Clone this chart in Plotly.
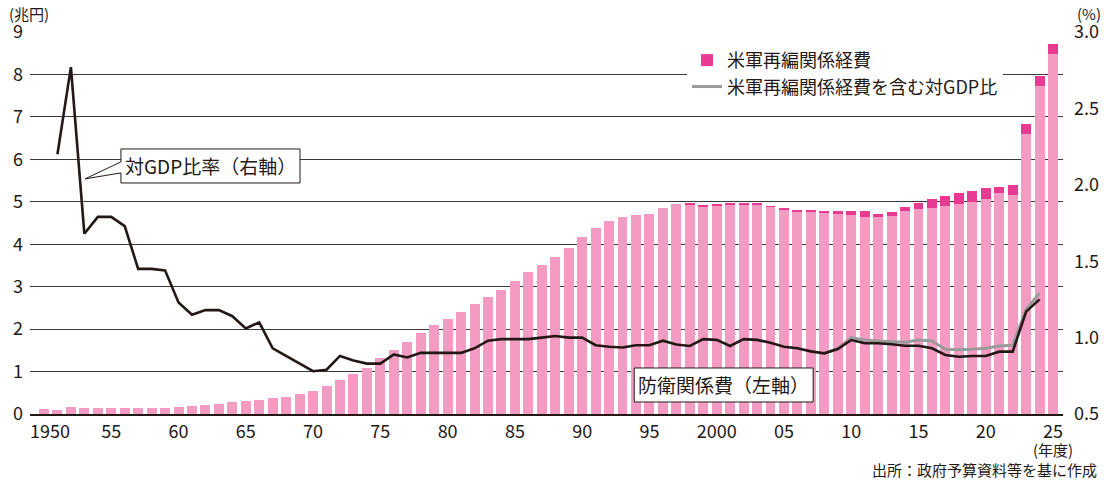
import plotly.graph_objects as go

# ---- data ----
years = list(range(1950, 2026))
defense = [0.12, 0.10, 0.17, 0.13, 0.13, 0.13, 0.14, 0.14, 0.14, 0.15,
           0.16, 0.18, 0.21, 0.24, 0.28, 0.30, 0.34, 0.38, 0.41, 0.47,
           0.55, 0.67, 0.80, 0.94, 1.09, 1.33, 1.51, 1.69, 1.90, 2.09,
           2.23, 2.40, 2.59, 2.75, 2.93, 3.14, 3.34, 3.52, 3.70, 3.92,
           4.16, 4.39, 4.55, 4.64, 4.68, 4.72, 4.85, 4.95, 4.93, 4.90,
           4.92, 4.93, 4.93, 4.93, 4.88, 4.81, 4.78, 4.78, 4.74, 4.71,
           4.69, 4.64, 4.64, 4.67, 4.78, 4.83, 4.85, 4.90, 4.95, 5.00,
           5.07, 5.21, 5.16, 6.60, 7.73, 8.48]
reorg = [0]*47 + [0.00, 0.02, 0.02,
         0.01, 0.05, 0.05, 0.05, 0.02, 0.05, 0.03, 0.03, 0.05, 0.07,
         0.09, 0.14, 0.07, 0.09, 0.10, 0.14, 0.21, 0.24, 0.26, 0.25,
         0.25, 0.14, 0.24, 0.23, 0.23, 0.24]

ratio_years = list(range(1951, 2025))
ratio = [2.20, 2.77, 1.68, 1.79, 1.79, 1.73, 1.45, 1.45, 1.44,
         1.23, 1.15, 1.18, 1.18, 1.14, 1.06, 1.10, 0.93, 0.88, 0.83,
         0.78, 0.79, 0.88, 0.85, 0.83, 0.83, 0.89, 0.87, 0.90, 0.90,
         0.90, 0.90, 0.93, 0.98, 0.99, 0.99, 0.99, 1.00, 1.01, 1.00,
         1.00, 0.95, 0.94, 0.935, 0.95, 0.95, 0.98, 0.955, 0.945, 0.99,
         0.985, 0.945, 0.99, 0.985, 0.967, 0.94, 0.93, 0.91, 0.897, 0.925,
         0.984, 0.963, 0.963, 0.956, 0.947, 0.947, 0.93, 0.886, 0.875, 0.88,
         0.88, 0.908, 0.908, 1.17, 1.25]

ratio2_years = list(range(2008, 2025))
ratio2 = [0.897, 0.93, 1.00, 0.984, 0.978, 0.973, 0.97, 0.984, 0.978,
          0.923, 0.92, 0.923, 0.93, 0.945, 0.95, 1.185, 1.29]

tick_years = list(range(1950, 2030, 5))
tick_text = ["\u00a0\u00a0\u00a01950", "55", "60", "65", "70", "75", "80", "85",
             "90", "95", "2000", "05", "10", "15", "20", "25"]

FONT = "Noto Sans CJK JP"
INK = "#231815"
PINK = "#f39bc3"
MAGENTA = "#e93a93"

fig = go.Figure()
fig.add_trace(go.Bar(x=years, y=defense, marker_color=PINK, marker_line_width=0,
                     width=0.74, showlegend=False, name="防衛関係費"))
fig.add_trace(go.Bar(x=years, y=reorg, marker_color=MAGENTA, marker_line_width=0,
                     width=0.74, name="米軍再編関係経費"))
fig.add_trace(go.Scatter(x=ratio2_years, y=ratio2, yaxis="y2", mode="lines",
                         line=dict(color="#9a9a9a", width=3),
                         name="米軍再編関係経費を含む対GDP比"))
fig.add_trace(go.Scatter(x=ratio_years, y=ratio, yaxis="y2", mode="lines",
                         line=dict(color=INK, width=2.6), showlegend=False,
                         name="対GDP比率"))

# white area behind the legend (covers gridline)
fig.add_shape(type="rect", xref="paper", yref="paper", x0=0.6225, x1=0.9584,
              y0=0.822, y1=0.974, layer="between", fillcolor="white",
              line=dict(width=0))

# callout box for GDP ratio (data coords)
bx0, bx1, by0, by1 = 1955.72, 1969.03, 5.443, 6.244
tipx, tipy = 1953.05, 5.54
path = (f"M {bx0},{by1} L {bx1},{by1} L {bx1},{by0} L {bx0},{by0} "
        f"L {bx0},5.68 L {tipx},{tipy} L {bx0},5.94 Z")
fig.add_shape(type="path", path=path, xref="x", yref="y", layer="above",
              fillcolor="white", line=dict(color=INK, width=1))
fig.add_annotation(x=(bx0 + bx1) / 2, y=(by0 + by1) / 2, xref="x", yref="y",
                   text="対GDP比率（右軸）", showarrow=False,
                   font=dict(family=FONT, size=19, color=INK))

# box for defense bars
dx0, dx1, dy0, dy1 = 1993.87, 2007.17, 0.283, 1.084
fig.add_shape(type="rect", x0=dx0, x1=dx1, y0=dy0, y1=dy1, xref="x", yref="y",
              layer="above", fillcolor="white", line=dict(color=INK, width=1))
fig.add_annotation(x=(dx0 + dx1) / 2, y=(dy0 + dy1) / 2, xref="x", yref="y",
                   text="防衛関係費（左軸）", showarrow=False,
                   font=dict(family=FONT, size=19, color=INK))

# unit labels and notes
fig.add_annotation(x=-0.0223, y=1.0497, xref="paper", yref="paper",
                   xanchor="left", yanchor="middle",
                   text="(兆円)", showarrow=False,
                   font=dict(family=FONT, size=15, color=INK))
fig.add_annotation(x=1.0116, y=1.0497, xref="paper", yref="paper",
                   xanchor="left", yanchor="middle",
                   text="(%)", showarrow=False,
                   font=dict(family=FONT, size=15, color=INK))
fig.add_annotation(x=0.9903, y=-0.0942, xref="paper", yref="paper",
                   xanchor="center", yanchor="middle",
                   text="(年度)", showarrow=False,
                   font=dict(family=FONT, size=15, color=INK))
fig.add_annotation(x=1.0348, y=-0.146, xref="paper", yref="paper",
                   xanchor="right", yanchor="middle",
                   text="出所：政府予算資料等を基に作成", showarrow=False,
                   font=dict(family=FONT, size=15, color=INK))

fig.update_layout(
    width=1104, height=480,
    margin=dict(l=30, r=41, t=32, b=66, autoexpand=False),
    paper_bgcolor="white", plot_bgcolor="white",
    barmode="stack", bargap=0.26,
    font=dict(family=FONT, size=17, color=INK),
    xaxis=dict(range=[1948.96, 2025.74], tickmode="array", tickvals=tick_years,
               ticktext=tick_text, showgrid=False, zeroline=False,
               showline=True, linecolor=INK, linewidth=1.5, ticks="",
               ticklabelstandoff=1, tickfont=dict(size=18), automargin=False),
    yaxis=dict(range=[0, 9], dtick=1, showgrid=True, gridcolor="#3a3a3a",
               gridwidth=1, zeroline=False, ticks="", ticklabelstandoff=6,
               tickfont=dict(size=18), automargin=False),
    yaxis2=dict(range=[0.5, 3.0], dtick=0.5, tickformat=".1f", overlaying="y",
                side="right", showgrid=False, zeroline=False, ticks="",
                ticklabelstandoff=10, tickfont=dict(size=18), automargin=False),
    legend=dict(x=0.636, y=0.974, xanchor="left", yanchor="top",
                bgcolor="white", borderwidth=0, traceorder="normal",
                font=dict(family=FONT, size=18, color=INK),
                itemwidth=30, tracegroupgap=0),
)

fig.write_html("out.html", config={"displayModeBar": False},
               post_script="document.body.style.margin='0px';document.body.style.padding='0px';")
